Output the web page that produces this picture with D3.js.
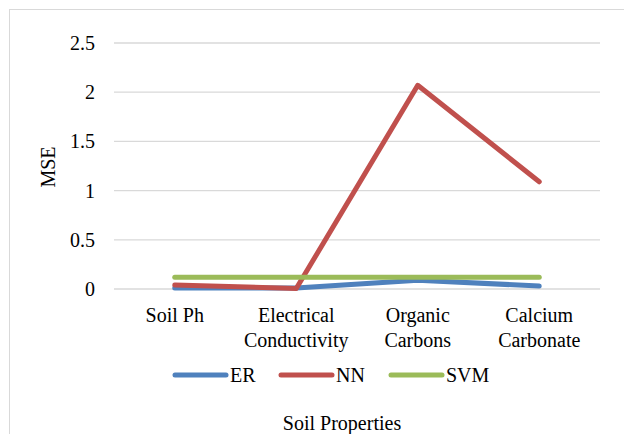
<!DOCTYPE html>
<html>
<head>
<meta charset="utf-8">
<script src="https://cdn.jsdelivr.net/npm/d3@7"></script>
<style>
  body { margin: 0; background: #fff; }
</style>
</head>
<body>
<div id="chart"></div>
<script>
// data
const categories = [["Soil Ph"], ["Electrical", "Conductivity"], ["Organic", "Carbons"], ["Calcium", "Carbonate"]];
const seriesNames = ["ER", "NN", "SVM"];
const erValues = [0.01, 0.01, 0.09, 0.03];
const nnValues = [0.04, 0.005, 2.07, 1.09];
const svmValues = [0.12, 0.12, 0.12, 0.12];
const yTicks = [0, 0.5, 1, 1.5, 2, 2.5];
const colors = ["#4F81BD", "#C0504D", "#9BBB59"];

const series = [erValues, nnValues, svmValues];
const serif = "Liberation Serif";

const W = 624, H = 434;
const margin = {top: 43, left: 114, right: 24, bottom: 145};
const width = W - margin.left - margin.right,
    height = H - margin.top - margin.bottom;

const svg = d3.select("#chart").append("svg")
    .attr("width", W)
    .attr("height", H)
    .attr("font-family", serif);

// chart border
svg.append("rect")
    .attr("x", 9.5).attr("y", 9.5)
    .attr("width", 700).attr("height", 500)
    .attr("fill", "none")
    .attr("stroke", "#d9d9d9");

const g = svg.append("g")
    .attr("transform", `translate(${margin.left},${margin.top})`);

// scales
const x = d3.scaleBand()
    .domain(d3.range(categories.length))
    .range([0, width]);

const y = d3.scaleLinear()
    .domain([0, 2.5])
    .range([height, 0]);

// gridlines
g.append("g")
    .selectAll("line")
    .data(yTicks)
    .enter()
    .append("line")
    .attr("x1", 0).attr("x2", width)
    .attr("y1", d => y(d)).attr("y2", d => y(d))
    .attr("stroke", "#d9d9d9")
    .attr("stroke-width", 1.3);

// y axis
const yAxis = d3.axisLeft(y).tickValues(yTicks).tickFormat(d3.format("")).tickSize(0).tickPadding(19);
g.append("g")
    .attr("class", "y-axis")
    .call(yAxis)
    .attr("font-family", serif)
    .attr("font-size", 20)
    .call(a => a.select(".domain").remove())
    .selectAll("text")
    .attr("fill", "#000");

// x labels
const xl = g.append("g").selectAll("text")
    .data(categories)
    .enter()
    .append("text")
    .attr("text-anchor", "middle")
    .attr("font-size", "20px")
    .attr("x", (d, i) => x(i) + x.bandwidth() / 2)
    .attr("y", height + 33);

xl.selectAll("tspan")
    .data(d => d)
    .enter()
    .append("tspan")
    .attr("x", function () { return d3.select(this.parentNode).attr("x"); })
    .attr("dy", (d, i) => i === 0 ? 0 : 25)
    .text(d => d);

// lines
const line = d3.line()
    .x((d, i) => x(i) + x.bandwidth() / 2)
    .y(d => y(d));

g.selectAll(".series")
    .data(series)
    .enter()
    .append("path")
    .attr("class", "series")
    .attr("d", d => line(d))
    .attr("fill", "none")
    .attr("stroke", (d, i) => colors[i])
    .attr("stroke-width", 5)
    .attr("stroke-linecap", "round")
    .attr("stroke-linejoin", "round");

// axis titles
svg.append("text")
    .attr("transform", "translate(55,167) rotate(-90)")
    .attr("text-anchor", "middle")
    .attr("font-size", "20px")
    .text("MSE");

svg.append("text")
    .attr("x", 342)
    .attr("y", 430)
    .attr("text-anchor", "middle")
    .attr("font-size", "20px")
    .text("Soil Properties");

// legend
const legendX = [175, 281, 391];
const legend = svg.append("g").selectAll("g")
    .data(seriesNames)
    .enter()
    .append("g")
    .attr("transform", (d, i) => `translate(${legendX[i]},375)`);

legend.append("line")
    .attr("x1", 0).attr("x2", 51)
    .attr("stroke", (d, i) => colors[i])
    .attr("stroke-width", 5)
    .attr("stroke-linecap", "round");

legend.append("text")
    .attr("x", 55)
    .attr("y", 7)
    .attr("font-size", "20px")
    .text(d => d);
</script>
</body>
</html>
